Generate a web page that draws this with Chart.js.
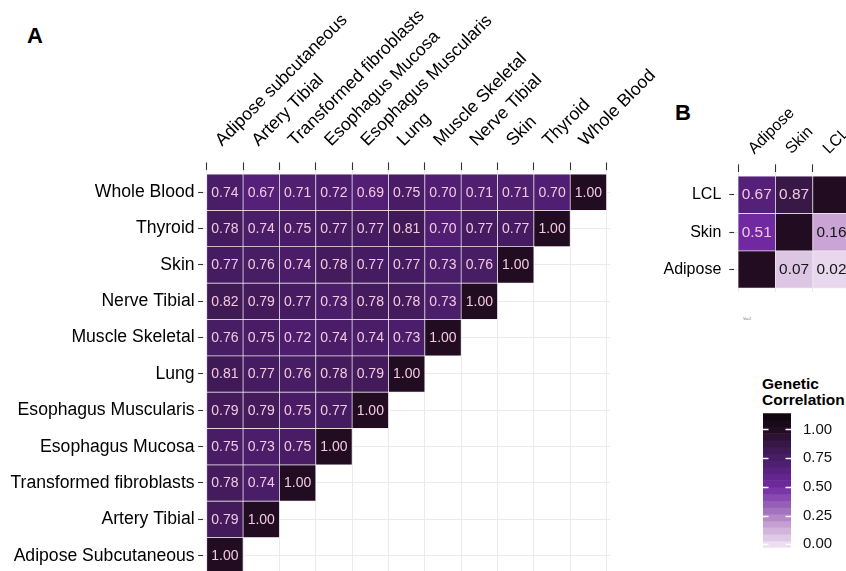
<!DOCTYPE html>
<html>
<head>
<meta charset="utf-8">
<script src="https://cdn.jsdelivr.net/npm/chart.js@4.4.1/dist/chart.umd.min.js"></script>
<style>
  html, body { margin: 0; padding: 0; background: #fff; }
  body { width: 846px; height: 571px; overflow: hidden; position: relative;
         font-family: 'Liberation Sans', Arial, Helvetica, sans-serif; }
  canvas { position: absolute; }
  .tag { position: absolute; font-weight: bold; font-size: 22px; line-height: 22px; color: #000; }
  #legTitle { position: absolute; left: 762px; top: 376px; font-weight: bold; font-size: 15.5px; line-height: 16px; color: #000; }
  #var2 { position: absolute; left: 743px; top: 316px; font-size: 4px; color: #777; }
</style>
</head>
<body>
<div class="tag" style="left:27px;top:25px">A</div>
<div class="tag" style="left:675px;top:102px">B</div>
<div id="legTitle">Genetic<br>Correlation</div>
<div id="var2">Var2</div>
<canvas id="chartA" width="680" height="600" style="left:0;top:0"></canvas>
<canvas id="chartB" width="240" height="330" style="left:640px;top:0"></canvas>
<canvas id="chartLegend" width="106" height="160" style="left:740px;top:400px"></canvas>
<script>
// ---- Panel A: genetic correlation between GTEx tissues ----
const tissueCols = ['Adipose subcutaneous', 'Artery Tibial', 'Transformed fibroblasts', 'Esophagus Mucosa',
  'Esophagus Muscularis', 'Lung', 'Muscle Skeletal', 'Nerve Tibial', 'Skin', 'Thyroid', 'Whole Blood'];
// rows listed bottom to top
const tissueRows = ['Adipose Subcutaneous', 'Artery Tibial', 'Transformed fibroblasts', 'Esophagus Mucosa',
  'Esophagus Muscularis', 'Lung', 'Muscle Skeletal', 'Nerve Tibial', 'Skin', 'Thyroid', 'Whole Blood'];

// each row holds correlations with the tissues in tissueCols order (lower triangle)
const rgAdipose    = [1.00];
const rgArtery     = [0.79, 1.00];
const rgFibroblast = [0.78, 0.74, 1.00];
const rgEsoMucosa  = [0.75, 0.73, 0.75, 1.00];
const rgEsoMusc    = [0.79, 0.79, 0.75, 0.77, 1.00];
const rgLung       = [0.81, 0.77, 0.76, 0.78, 0.79, 1.00];
const rgMuscle     = [0.76, 0.75, 0.72, 0.74, 0.74, 0.73, 1.00];
const rgNerve      = [0.82, 0.79, 0.77, 0.73, 0.78, 0.78, 0.73, 1.00];
const rgSkin       = [0.77, 0.76, 0.74, 0.78, 0.77, 0.77, 0.73, 0.76, 1.00];
const rgThyroid    = [0.78, 0.74, 0.75, 0.77, 0.77, 0.81, 0.70, 0.77, 0.77, 1.00];
const rgBlood      = [0.74, 0.67, 0.71, 0.72, 0.69, 0.75, 0.70, 0.71, 0.71, 0.70, 1.00];
const rowsA = [rgAdipose, rgArtery, rgFibroblast, rgEsoMucosa, rgEsoMusc, rgLung,
  rgMuscle, rgNerve, rgSkin, rgThyroid, rgBlood];

// ---- Panel B: Adipose / Skin / LCL ----
const bTissues    = ['Adipose', 'Skin', 'LCL'];          // columns, and rows bottom to top
const bRowAdipose = [1.00, 0.07, 0.02];
const bRowSkin    = [0.51, 1.00, 0.16];
const bRowLCL     = [0.67, 0.87, 1.00];
const rowsB = [bRowAdipose, bRowSkin, bRowLCL];

// ---- colour bar ----
const legendTicks = [0, 0.25, 0.5, 0.75, 1.0];
const legendMin = -0.03, legendMax = 1.14, legendBins = 20;

// fill colour ramp (value -> rgb)
const FILL_STOPS = [
  [0.00, [236, 222, 241]],
  [0.16, [201, 164, 212]],
  [0.30, [162, 112, 190]],
  [0.50, [114, 42, 162]],
  [0.67, [85, 32, 122]],
  [0.75, [72, 29, 102]],
  [0.87, [56, 24, 70]],
  [1.00, [33, 12, 34]],
  [1.15, [10, 4, 10]]
];
function fillFor(v) {
  if (v <= FILL_STOPS[0][0]) return 'rgb(' + FILL_STOPS[0][1].join(',') + ')';
  for (let i = 1; i < FILL_STOPS.length; i++) {
    const [v1, c1] = FILL_STOPS[i];
    if (v <= v1) {
      const [v0, c0] = FILL_STOPS[i - 1];
      const t = (v - v0) / (v1 - v0);
      const c = c0.map((a, k) => Math.round(a + (c1[k] - a) * t));
      return 'rgb(' + c.join(',') + ')';
    }
  }
  return 'rgb(' + FILL_STOPS[FILL_STOPS.length - 1][1].join(',') + ')';
}

const FONT = "'Liberation Sans', Arial, Helvetica, sans-serif";
const LIGHT_TEXT = '#f3c9df';
const DARK_TEXT = '#161616';

// builds floating-bar tiles: x = column index, y spans [row - 0.5, row + 0.5]
function buildTiles(rows, labelDiagonal) {
  const out = [];
  rows.forEach((vals, r) => {
    vals.forEach((v, c) => {
      out.push({ x: c + 1, y: [r + 0.5, r + 1.5], v: v, showLabel: labelDiagonal || c !== r });
    });
  });
  return out;
}

// writes each tile's value in its centre
const cellLabels = {
  id: 'cellLabels',
  afterDatasetsDraw(chart, args, opts) {
    const ctx = chart.ctx;
    const meta = chart.getDatasetMeta(0);
    const data = chart.data.datasets[0].data;
    ctx.save();
    ctx.beginPath();
    ctx.rect(chart.chartArea.left, chart.chartArea.top, chart.chartArea.width, chart.chartArea.height);
    ctx.clip();
    ctx.font = opts.size + 'px ' + FONT;
    ctx.textAlign = 'center';
    ctx.textBaseline = 'middle';
    meta.data.forEach((bar, i) => {
      const d = data[i];
      if (!d.showLabel) return;
      const p = bar.getProps(['x', 'y', 'base'], true);
      ctx.fillStyle = d.v > 0.35 ? LIGHT_TEXT : DARK_TEXT;
      ctx.fillText(d.v.toFixed(2), p.x, (p.y + p.base) / 2 + 0.5);
    });
    ctx.restore();
  }
};

function heatmapConfig(rowsData, colNames, rowNames, geo) {
  const n = colNames.length;
  const tiles = buildTiles(rowsData, geo.labelDiagonal);
  return {
    type: 'bar',
    data: {
      datasets: [{
        data: tiles,
        backgroundColor: tiles.map(t => fillFor(t.v)),
        borderColor: 'rgba(238,234,240,0.9)',
        borderWidth: 0.7,
        borderSkipped: false,
        barPercentage: 1,
        categoryPercentage: 1
      }]
    },
    options: {
      responsive: false,
      animation: false,
      events: [],
      layout: { padding: { left: 0, top: 0, right: geo.padRight, bottom: geo.padBottom } },
      plugins: {
        legend: { display: false },
        tooltip: { enabled: false },
        cellLabels: { size: geo.cellFont }
      },
      scales: {
        x: {
          type: 'linear',
          position: 'top',
          min: 0.4, max: n + 0.6,
          offset: false,
          border: { display: false },
          grid: { color: '#ebebeb', lineWidth: 1, drawTicks: true, tickLength: geo.xTickLen,
                  tickColor: '#333', tickWidth: 1.1 },
          afterBuildTicks: s => { s.ticks = colNames.map((_, i) => ({ value: i + 1 })); },
          afterFit: s => { s.height = geo.top; s.paddingLeft = 0; s.paddingRight = 0; },
          ticks: {
            autoSkip: false, minRotation: 45, maxRotation: 45,
            padding: geo.xPad,
            color: '#000',
            font: { family: FONT, size: geo.axisFont, lineHeight: 0.5 },
            callback: v => colNames[Math.round(v) - 1]
          }
        },
        y: {
          type: 'linear',
          position: 'left',
          min: 0.4, max: n + 0.6,
          border: { display: false },
          grid: { color: '#ebebeb', lineWidth: 1, drawTicks: true, tickLength: 5,
                  tickColor: '#333', tickWidth: 1.1 },
          afterBuildTicks: s => { s.ticks = rowNames.map((_, i) => ({ value: i + 1 })); },
          afterFit: s => { s.width = geo.left; s.paddingTop = 0; s.paddingBottom = 0; },
          ticks: {
            autoSkip: false,
            padding: geo.yPad,
            color: '#000',
            font: { family: FONT, size: geo.axisFont },
            callback: v => rowNames[Math.round(v) - 1]
          }
        }
      }
    },
    plugins: [cellLabels]
  };
}

// Panel A: panel spans x 203.1..610.2, y 170.4..577.5
new Chart(document.getElementById('chartA'), heatmapConfig(rowsA, tissueCols, tissueRows, {
  left: 203.1, top: 170.4, padRight: 680 - 610.2, padBottom: 600 - 577.5,
  xTickLen: 8, xPad: 16, yPad: 3.5, axisFont: 17.6, cellFont: 14, labelDiagonal: true
}));

// Panel B: panel spans x 734.3..853.9, y 172.3..291.9 (canvas offset 640)
new Chart(document.getElementById('chartB'), heatmapConfig(rowsB, bTissues, bTissues, {
  left: 94.3, top: 172.3, padRight: 240 - 213.9, padBottom: 330 - 291.9,
  xTickLen: 8, xPad: 10, yPad: 8, axisFont: 16, cellFont: 15.4, labelDiagonal: false
}));

// ---- colour bar legend ----
const legendBinsData = [];
for (let i = 0; i < legendBins; i++) {
  const a = legendMin + (legendMax - legendMin) * i / legendBins;
  const b = legendMin + (legendMax - legendMin) * (i + 1) / legendBins;
  legendBinsData.push({ x: 0, y: [a, b], mid: (a + b) / 2 });
}
const legendTickMarks = {
  id: 'legendTickMarks',
  afterDatasetsDraw(chart) {
    const ctx = chart.ctx, area = chart.chartArea, ys = chart.scales.y;
    ctx.save();
    ctx.strokeStyle = '#ffffff';
    ctx.lineWidth = 1.3;
    legendTicks.forEach(v => {
      const y = Math.round(ys.getPixelForValue(v)) + 0.5;
      ctx.beginPath();
      ctx.moveTo(area.left, y); ctx.lineTo(area.left + 5.5, y);
      ctx.moveTo(area.right - 5.5, y); ctx.lineTo(area.right, y);
      ctx.stroke();
    });
    ctx.restore();
  }
};
new Chart(document.getElementById('chartLegend'), {
  type: 'bar',
  data: {
    labels: [''],
    datasets: [{
      data: legendBinsData,
      backgroundColor: legendBinsData.map(d => fillFor(d.mid)),
      borderWidth: 0,
      barPercentage: 1,
      categoryPercentage: 1
    }]
  },
  options: {
    responsive: false,
    animation: false,
    events: [],
    layout: { padding: { left: 23, top: 13.3, right: 0, bottom: 160 - 147.7 } },
    plugins: { legend: { display: false }, tooltip: { enabled: false } },
    scales: {
      x: { type: 'category', display: false, offset: true },
      y: {
        position: 'right',
        min: legendMin, max: legendMax,
        border: { display: false },
        grid: { display: false, drawTicks: false },
        afterBuildTicks: s => { s.ticks = legendTicks.map(v => ({ value: v })); },
        afterFit: s => { s.width = 55; s.paddingTop = 0; s.paddingBottom = 0; },
        ticks: {
          padding: 12,
          color: '#111',
          font: { family: FONT, size: 15 },
          callback: v => v.toFixed(2)
        }
      }
    }
  },
  plugins: [legendTickMarks]
});
</script>
</body>
</html>
